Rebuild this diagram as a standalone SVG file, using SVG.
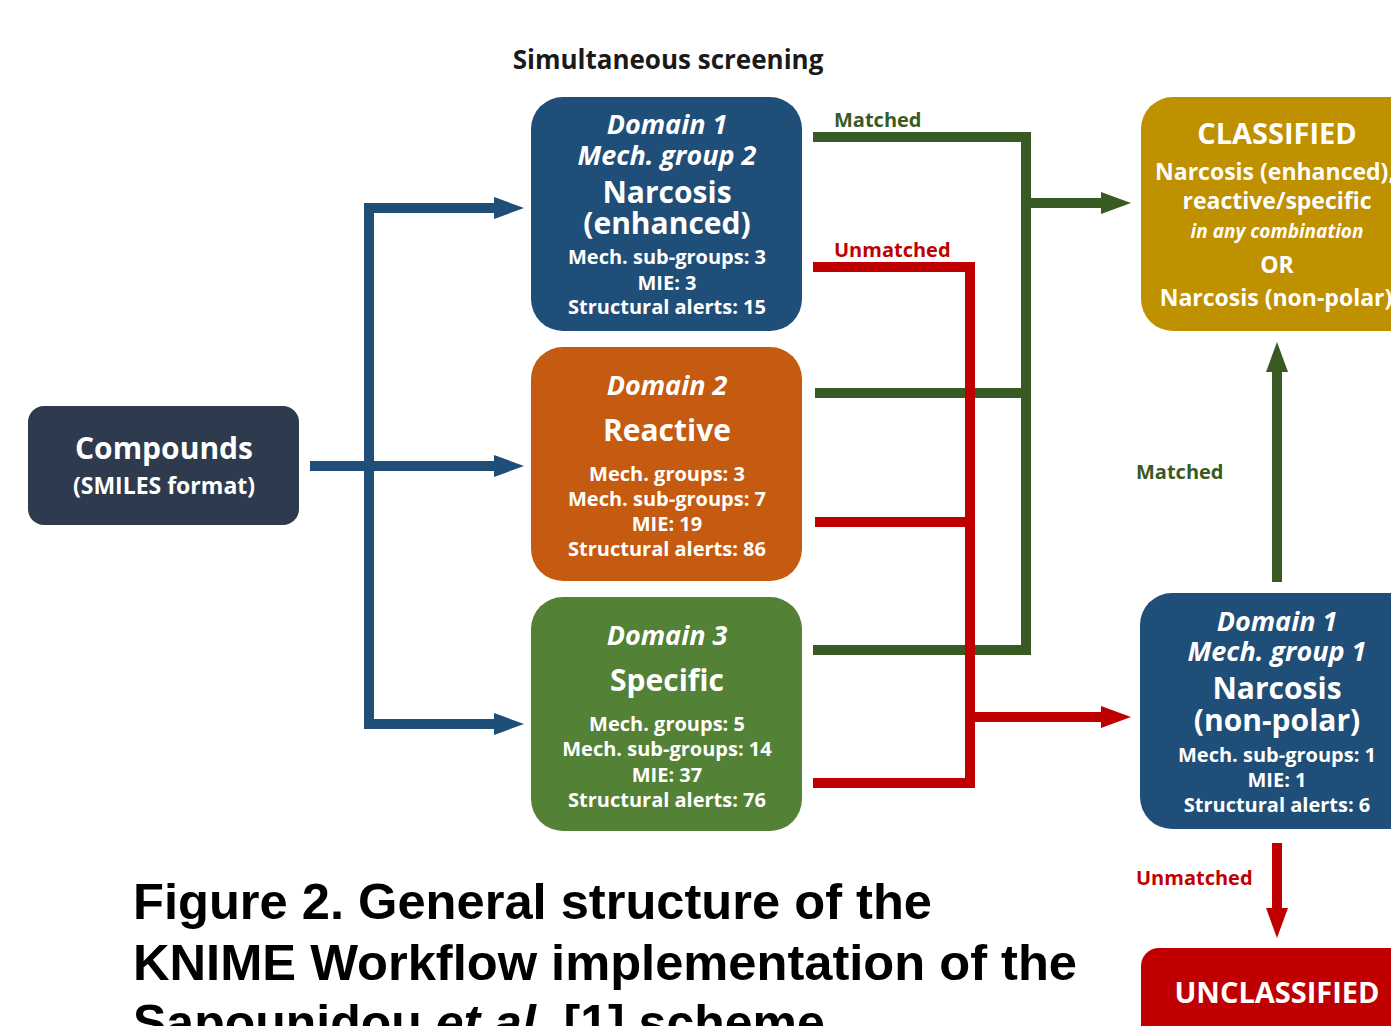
<svg xmlns="http://www.w3.org/2000/svg" width="1391" height="1026" viewBox="0 0 1391 1026">
<style>
  .t{font-family:"Open Sans","Liberation Sans",sans-serif;font-weight:700;fill:#fff;text-anchor:middle}
  .it{font-style:italic}
  .h{font-size:27px}
  .m{font-size:30px}
  .s{font-size:20px}
  .lbl{font-family:"Open Sans","Liberation Sans",sans-serif;font-weight:700;font-size:20px}
  .cap{font-family:"Liberation Sans",Arial,sans-serif;font-weight:700;font-size:50px;fill:#000}
  .blue{stroke:#1F4E79;stroke-width:10;fill:none}
  .green{stroke:#3A5A24;stroke-width:10;fill:none}
  .red{stroke:#C00000;stroke-width:10;fill:none}
</style>
<defs>
  <marker id="ab" markerUnits="userSpaceOnUse" markerWidth="30" markerHeight="22" refX="0" refY="11" orient="auto" overflow="visible"><path d="M0,0 L30,11 L0,22 z" fill="#1F4E79"/></marker>
  <marker id="ag" markerUnits="userSpaceOnUse" markerWidth="30" markerHeight="22" refX="0" refY="11" orient="auto" overflow="visible"><path d="M0,0 L30,11 L0,22 z" fill="#3A5A24"/></marker>
  <marker id="ar" markerUnits="userSpaceOnUse" markerWidth="30" markerHeight="22" refX="0" refY="11" orient="auto" overflow="visible"><path d="M0,0 L30,11 L0,22 z" fill="#C00000"/></marker>
</defs>
<rect width="1391" height="1026" fill="#fff"/>

<text x="668" y="69" font-family="Open Sans, Liberation Sans, sans-serif" font-weight="700" font-size="26" fill="#1a1a1a" text-anchor="middle">Simultaneous screening</text>

<g id="connectors">
  <path class="blue" d="M310,466 H494" marker-end="url(#ab)"/>
  <path class="blue" d="M494,208 H369 V724 H494" marker-end="url(#ab)"/>
  <path class="blue" d="M369,208 H494" marker-end="url(#ab)"/>
  <path class="green" d="M813,137 H1026 V650 H813"/>
  <path class="green" d="M815,393 H1026"/>
  <path class="green" d="M1026,203 H1101" marker-end="url(#ag)"/>
  <path class="red" d="M813,267 H970 V783 H813"/>
  <path class="red" d="M815,522 H975"/>
  <path class="red" d="M970,717 H1101" marker-end="url(#ar)"/>
  <path class="green" d="M1277,582 V372" marker-end="url(#ag)"/>
  <path class="red" d="M1277,843 V908" marker-end="url(#ar)"/>
  <text class="lbl" x="834" y="127" fill="#3A5A24">Matched</text>
  <text class="lbl" x="834" y="257" fill="#C00000">Unmatched</text>
  <text class="lbl" x="1136" y="479" fill="#3A5A24">Matched</text>
  <text class="lbl" x="1136" y="885" fill="#C00000">Unmatched</text>
</g>

<g id="compounds">
  <rect x="28" y="406" width="271" height="119" rx="16" fill="#2E3A4E"/>
  <text class="t" x="164" y="459" font-size="30">Compounds</text>
  <text class="t" x="164" y="494" font-size="23">(SMILES format)</text>
</g>

<g id="domain1">
  <rect x="531" y="97" width="271" height="234" rx="32" fill="#1F4E79"/>
  <text class="t it h" x="667" y="134">Domain 1</text>
  <text class="t it h" x="667" y="165">Mech. group 2</text>
  <text class="t m" x="667" y="203">Narcosis</text>
  <text class="t m" x="667" y="234">(enhanced)</text>
  <text class="t s" x="667" y="264">Mech. sub-groups: 3</text>
  <text class="t s" x="667" y="290">MIE: 3</text>
  <text class="t s" x="667" y="314">Structural alerts: 15</text>
</g>

<g id="domain2">
  <rect x="531" y="347" width="271" height="234" rx="32" fill="#C55A11"/>
  <text class="t it h" x="667" y="395">Domain 2</text>
  <text class="t m" x="667" y="441">Reactive</text>
  <text class="t s" x="667" y="481">Mech. groups: 3</text>
  <text class="t s" x="667" y="506">Mech. sub-groups: 7</text>
  <text class="t s" x="667" y="531">MIE: 19</text>
  <text class="t s" x="667" y="556">Structural alerts: 86</text>
</g>

<g id="domain3">
  <rect x="531" y="597" width="271" height="234" rx="32" fill="#538135"/>
  <text class="t it h" x="667" y="645">Domain 3</text>
  <text class="t m" x="667" y="691">Specific</text>
  <text class="t s" x="667" y="731">Mech. groups: 5</text>
  <text class="t s" x="667" y="756">Mech. sub-groups: 14</text>
  <text class="t s" x="667" y="782">MIE: 37</text>
  <text class="t s" x="667" y="807">Structural alerts: 76</text>
</g>

<g id="classified">
  <rect x="1141" y="97" width="290" height="234" rx="32" fill="#BF9000"/>
  <text class="t" x="1277" y="144" font-size="29">CLASSIFIED</text>
  <text class="t" x="1275" y="180" font-size="23">Narcosis (enhanced),</text>
  <text class="t" x="1277" y="209" font-size="23">reactive/specific</text>
  <text class="t it" x="1277" y="238" font-size="19">in any combination</text>
  <text class="t" x="1277" y="273" font-size="23">OR</text>
  <text class="t" x="1276" y="306" font-size="23">Narcosis (non-polar)</text>
</g>

<g id="domain1-group1">
  <rect x="1140" y="593" width="290" height="236" rx="32" fill="#1F4E79"/>
  <text class="t it h" x="1277" y="631">Domain 1</text>
  <text class="t it h" x="1277" y="661">Mech. group 1</text>
  <text class="t m" x="1277" y="699">Narcosis</text>
  <text class="t m" x="1277" y="731">(non-polar)</text>
  <text class="t s" x="1277" y="762">Mech. sub-groups: 1</text>
  <text class="t s" x="1277" y="787">MIE: 1</text>
  <text class="t s" x="1277" y="812">Structural alerts: 6</text>
</g>

<g id="unclassified">
  <rect x="1141" y="948" width="290" height="100" rx="18" fill="#C00000"/>
  <text class="t" x="1277" y="1003" font-size="29">UNCLASSIFIED</text>
</g>

<g id="caption">
  <text class="cap" x="133" y="919" textLength="799" lengthAdjust="spacingAndGlyphs">Figure 2. General structure of the</text>
  <text class="cap" x="133" y="980" textLength="944" lengthAdjust="spacingAndGlyphs">KNIME Workflow implementation of the</text>
  <text class="cap" x="133" y="1040">Sapounidou <tspan font-style="italic">et al.</tspan> [1] scheme</text>
</g>
</svg>
